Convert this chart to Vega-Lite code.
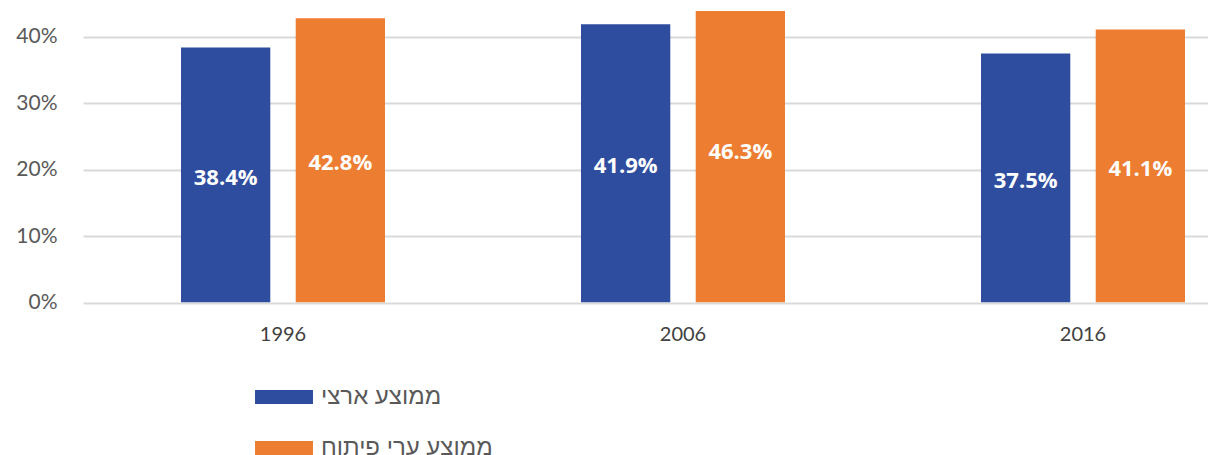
{
  "$schema": "https://vega.github.io/schema/vega-lite/v6.json",
  "width": 1125,
  "height": 291.5,
  "autosize": {"type": "none"},
  "padding": {"left": 83, "top": 11, "right": 0, "bottom": 152},
  "background": "white",
  "config": {"view": {"stroke": null}},
  "data": {
    "values": [
      {"year": "1996", "series": "ממוצע ארצי", "value": 0.384},
      {"year": "1996", "series": "ממוצע ערי פיתוח", "value": 0.428},
      {"year": "2006", "series": "ממוצע ארצי", "value": 0.419},
      {"year": "2006", "series": "ממוצע ערי פיתוח", "value": 0.463},
      {"year": "2016", "series": "ממוצע ארצי", "value": 0.375},
      {"year": "2016", "series": "ממוצע ערי פיתוח", "value": 0.411}
    ]
  },
  "encoding": {
    "x": {
      "field": "year",
      "type": "nominal",
      "sort": null,
      "scale": {"range": [0, 1200], "paddingInner": 0.49, "paddingOuter": 0.245},
      "axis": {
        "title": null,
        "domain": false,
        "ticks": false,
        "labelAngle": 0,
        "labelFont": "Lato",
        "labelFontSize": 20,
        "labelColor": "#404040",
        "labelPadding": 22
      }
    },
    "xOffset": {
      "field": "series",
      "type": "nominal",
      "sort": ["ממוצע ארצי", "ממוצע ערי פיתוח"],
      "scale": {"paddingInner": 0.2217, "paddingOuter": 0}
    }
  },
  "layer": [
    {
      "mark": {"type": "bar", "clip": true},
      "encoding": {
        "y": {
          "field": "value",
          "type": "quantitative",
          "stack": null,
          "scale": {"domain": [0, 0.439], "nice": false, "zero": true},
          "axis": {
            "title": null,
            "domain": false,
            "ticks": false,
            "grid": true,
            "gridColor": "#d9d9d9",
            "gridWidth": 2,
            "values": [0, 0.1, 0.2, 0.3, 0.4],
            "format": ".0%",
            "labelFont": "Lato",
            "labelFontSize": 21,
            "labelColor": "#595959",
            "labelPadding": 26
          }
        },
        "color": {
          "field": "series",
          "type": "nominal",
          "scale": {
            "domain": ["ממוצע ארצי", "ממוצע ערי פיתוח"],
            "range": ["#2F4D9F", "#ED7D31"]
          },
          "legend": {
            "title": null,
            "orient": "none",
            "direction": "vertical",
            "legendX": 189,
            "legendY": 374,
            "padding": 0,
            "symbolType": "M-4.14,-1H4.14V1H-4.14Z",
            "symbolSize": 196,
            "symbolStrokeWidth": 0,
            "symbolOpacity": 1,
            "labelOffset": 25,
            "labelFont": "Liberation Sans",
            "labelFontSize": 24,
            "labelColor": "#595959",
            "rowPadding": 27,
            "labelLimit": 400
          }
        }
      }
    },
    {
      "mark": {
        "type": "text",
        "color": "white",
        "font": "Open Sans",
        "fontWeight": "bold",
        "fontSize": 22,
        "baseline": "middle",
        "dy": 3
      },
      "encoding": {
        "y": {"field": "value", "type": "quantitative", "stack": "zero", "bandPosition": 0.5},
        "text": {"field": "value", "type": "quantitative", "format": ".1%"}
      }
    }
  ]
}
